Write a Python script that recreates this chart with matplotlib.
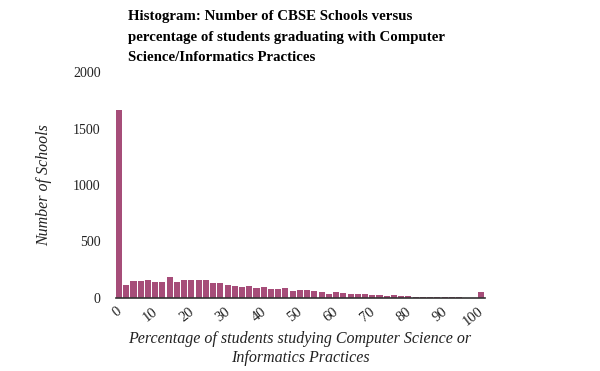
import numpy as np
import matplotlib
matplotlib.use('Agg')
import matplotlib.pyplot as plt

plt.rcParams['font.family'] = ['Liberation Serif', 'DejaVu Serif']

# bins of width 2, left edges 0..100
bin_lefts = list(range(0, 102, 2))
counts = [1660, 118, 153, 153, 162, 144, 144, 188, 144, 162,
          162, 162, 162, 135, 135, 118, 109, 100, 109, 91,
          100, 82, 82, 90, 64, 72, 72, 62, 53, 35,
          53, 44, 35, 35, 35, 26, 26, 18, 26, 18,
          18, 9, 9, 9, 9, 9, 9, 9, 0, 0,
          53]
x_ticks = list(range(0, 101, 10))
y_ticks = [0, 500, 1000, 1500, 2000]

title = ("Histogram: Number of CBSE Schools versus\n"
         "percentage of students graduating with Computer\n"
         "Science/Informatics Practices")
x_title = "Percentage of students studying Computer Science or\nInformatics Practices"

fig = plt.figure(figsize=(6, 3.71), dpi=100)
ax = fig.add_axes([116 / 600, 73 / 371, 369 / 600, 226 / 371])

ax.bar(bin_lefts, counts, width=1.68, align='edge', color='#a64d79')

ax.set_xlim(0, 102)
ax.set_ylim(0, 2000)
ax.set_xticks(x_ticks)
ax.set_xticklabels([str(t) for t in x_ticks], rotation=38, ha='right',
                   rotation_mode='anchor', fontsize=10.5, color='#222222')
ax.set_yticks(y_ticks)
ax.set_yticklabels([str(t) for t in y_ticks], fontsize=10, color='#222222')
ax.tick_params(length=0)
ax.tick_params(axis='y', pad=11)
ax.tick_params(axis='x', pad=5)

for s in ['top', 'right', 'left']:
    ax.spines[s].set_visible(False)
ax.spines['bottom'].set_color('#333333')
ax.spines['bottom'].set_linewidth(1.2)

ax.set_ylabel('Number of Schools', fontsize=11.5, style='italic',
              color='#222222', labelpad=15)

# x axis title placed as figure text (two centred lines)
fig.text(300 / 600, 1 - 331 / 371, x_title, fontsize=11.5, style='italic',
         color='#222222', ha='center', va='top', multialignment='center',
         linespacing=1.25)

fig.text(128 / 600, 1 - 10 / 371, title, fontsize=10.7, fontweight='bold',
         va='top', ha='left', linespacing=1.75)

fig.savefig('out.png', dpi=100)
